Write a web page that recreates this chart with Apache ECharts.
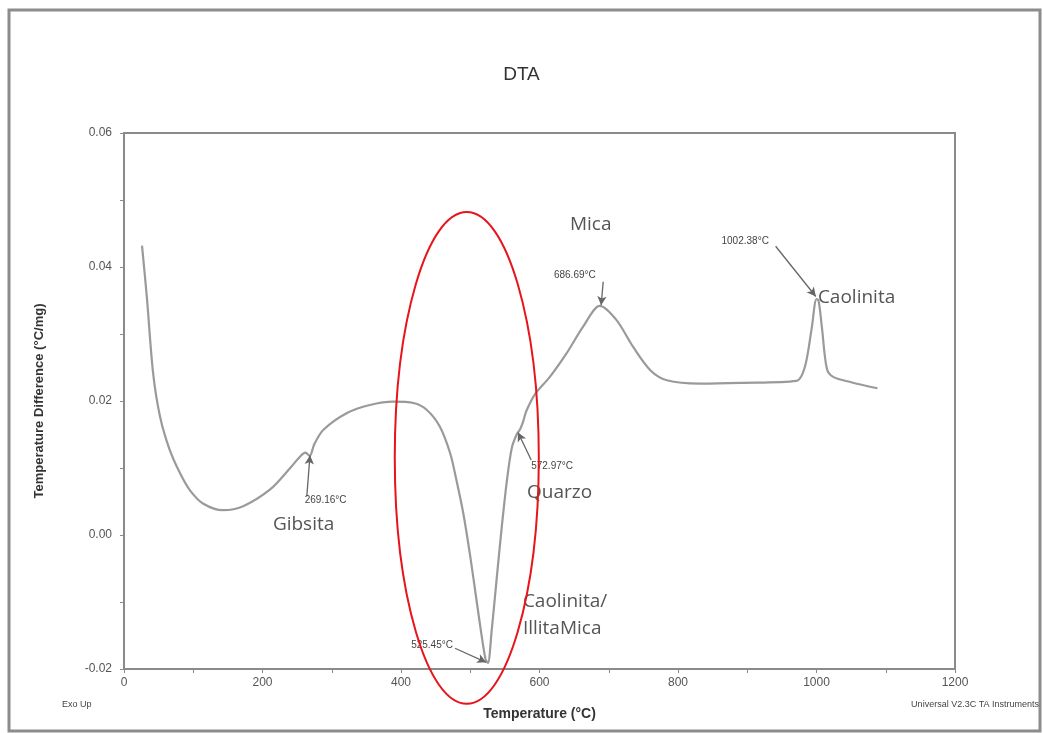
<!DOCTYPE html>
<html><head><meta charset="utf-8">
<script src="https://cdn.jsdelivr.net/npm/echarts@6/dist/echarts.min.js"></script>
<style>html,body{margin:0;padding:0;background:#fff}#c{width:1043px;height:733px}</style>
</head><body><div id="c"></div>
<script>
// Temperature (°C) and DTA signal (°C/mg)
var temps = [26,33,42,52,66,81,95,114,143,172,211,240,255,262,268,275,288,322,355,389,418,437,456,471,480,490,500,509,516,522,525.5,531,538,545,553,560,567,572,576,581,594,615,639,663,687,711,735,760,784,832,890,971,983,993,1000,1003,1008,1015,1024,1050,1088];
var dta = [0.0432,0.0355,0.0242,0.0177,0.0127,0.0092,0.0067,0.0047,0.0037,0.0043,0.0068,0.0100,0.0118,0.0123,0.0118,0.0136,0.0157,0.0182,0.0194,0.0199,0.0197,0.0187,0.0162,0.0122,0.0082,0.0032,-0.0032,-0.0097,-0.0147,-0.0185,-0.0191,-0.0142,-0.0067,0.0007,0.0082,0.0130,0.0150,0.0158,0.0168,0.0185,0.0211,0.0236,0.0271,0.0311,0.0342,0.0321,0.0281,0.0246,0.0231,0.0226,0.0227,0.0230,0.0250,0.0308,0.0352,0.0350,0.0308,0.0248,0.0236,0.0228,0.0219];

var xTicks = [0,200,400,600,800,1000,1200];
var yTicks = [-0.02,0.00,0.02,0.04,0.06];

// peak annotations: label text, label anchor, arrow start, arrow end
var peakLabels = ['269.16°C','525.45°C','572.97°C','686.69°C','1002.38°C'];
var peakLabelPos = [[261,0.0052],[475,-0.0164],[588,0.0103],[651,0.0388],[897,0.0439]];
var peakLabelAlign = ['left','right','left','center','center'];
var arrowFrom = [[264,0.0058],[478,-0.0169],[588,0.0112],[692,0.0378],[941,0.0431]];
var arrowTo = [[268.6,0.0119],[523,-0.0190],[569,0.0153],[689,0.0343],[999,0.0356]];

// mineral names
var minerals = ['Gibsita','Quarzo','Caolinita/','IllitaMica','Mica','Caolinita'];
var mineralPos = [[215,0.0015],[582,0.0064],[576,-0.0099],[576,-0.0139],[644,0.0464],[1002,0.0354]];

// highlight ellipse (data units)
var ellipseCenter = [495,0.0115];
var ellipseRadii = [104,0.0367];

var chart = echarts.init(document.getElementById('c'));
var axisColor = '#8a8a8a';
var txtColor = '#555';
var option = {
  animation:false,
  backgroundColor:'#fff',
  title:{text:'DTA',left:'center',top:60,textStyle:{fontFamily:'Liberation Sans',fontSize:19,fontWeight:'normal',color:'#333'}},
  grid:{left:124,right:88,top:133,bottom:64,show:true,borderColor:axisColor,borderWidth:2},
  xAxis:{type:'value',min:0,max:1200,interval:200,
    name:'Temperature (°C)',nameLocation:'middle',nameGap:38,
    nameTextStyle:{fontFamily:'Liberation Sans',fontSize:14,fontWeight:'bold',color:'#333'},
    axisLine:{show:true,onZero:false,lineStyle:{color:axisColor,width:2}},
    axisTick:{show:true,length:4,lineStyle:{color:axisColor}},
    minorTick:{show:true,splitNumber:2,length:4,lineStyle:{color:axisColor}},
    axisLabel:{fontFamily:'Liberation Sans',fontSize:12,color:txtColor,margin:8,
      formatter:function(v){return String(v);}},
    splitLine:{show:false}},
  yAxis:{type:'value',min:-0.02,max:0.06,interval:0.02,
    name:'Temperature Difference (°C/mg)',nameLocation:'middle',nameGap:78,
    nameTextStyle:{fontFamily:'Liberation Sans',fontSize:13,fontWeight:'bold',color:'#333'},
    axisLine:{show:true,onZero:false,lineStyle:{color:axisColor,width:2}},
    axisTick:{show:true,length:4,lineStyle:{color:axisColor}},
    minorTick:{show:true,splitNumber:2,length:4,lineStyle:{color:axisColor}},
    axisLabel:{fontFamily:'Liberation Sans',fontSize:12,color:txtColor,margin:12,
      formatter:function(v){return v.toFixed(2);}},
    splitLine:{show:false}},
  series:[{
    type:'line',
    data:temps.map(function(t,i){return [t,dta[i]];}),
    showSymbol:false,smooth:0.3,
    lineStyle:{color:'#9a9a9a',width:2.2},
    markLine:{silent:true,symbol:['none','arrow'],symbolSize:[7,9],
      label:{show:false},
      lineStyle:{color:'#666',width:1.3,type:'solid'},
      data:arrowFrom.map(function(p,i){return [{coord:p},{coord:arrowTo[i]}];})}
  }]
};
chart.setOption(option);

var g = [];
// outer frame
g.push({type:'rect',shape:{x:9,y:10,width:1031,height:721},style:{fill:'none',stroke:'#8c8c8c',lineWidth:3},z:0});
g.push({type:'text',left:62,top:700,style:{text:'Exo Up',font:'9px "Liberation Sans"',fill:'#444'}});
g.push({type:'text',right:4,top:700,style:{text:'Universal V2.3C TA Instruments',font:'9px "Liberation Sans"',fill:'#444'}});
peakLabels.forEach(function(t,i){
  var p = chart.convertToPixel({gridIndex:0},peakLabelPos[i]);
  g.push({type:'text',x:p[0],y:p[1],style:{text:t,font:'10px "Liberation Sans"',fill:'#444',align:peakLabelAlign[i],verticalAlign:'middle'},z:10});
});
minerals.forEach(function(t,i){
  var p = chart.convertToPixel({gridIndex:0},mineralPos[i]);
  g.push({type:'text',x:p[0],y:p[1],style:{text:t,font:'19px "Open Sans"',fill:'#555',align:'left',verticalAlign:'middle'},z:10});
});
var c = chart.convertToPixel({gridIndex:0},ellipseCenter);
var e = chart.convertToPixel({gridIndex:0},[ellipseCenter[0]+ellipseRadii[0],ellipseCenter[1]+ellipseRadii[1]]);
g.push({type:'ellipse',shape:{cx:c[0],cy:c[1],rx:Math.abs(e[0]-c[0]),ry:Math.abs(e[1]-c[1])},style:{fill:'none',stroke:'#e8141b',lineWidth:2},z:20});
chart.setOption({graphic:g});
</script>
</body></html>
